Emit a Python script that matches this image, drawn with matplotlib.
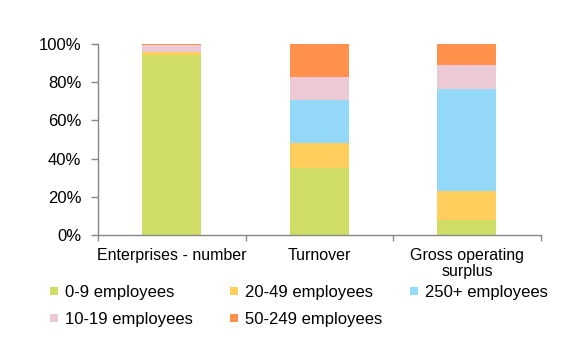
import numpy as np
import matplotlib.pyplot as plt
from matplotlib.lines import Line2D

plt.rcParams['font.family'] = ['Liberation Sans', 'DejaVu Sans']

categories = ["Enterprises - number", "Turnover", "Gross operating\nsurplus"]

# shares (%) by enterprise size class, bottom to top of each stack
size_classes = ["0-9 employees", "20-49 employees", "250+ employees",
                "10-19 employees", "50-249 employees"]
emp_0_9 = [94.2, 35.2, 8.0]
emp_20_49 = [1.6, 13.0, 15.0]
emp_250p = [0.1, 22.6, 53.4]
emp_10_19 = [3.7, 11.9, 12.6]
emp_50_249 = [0.4, 17.3, 11.0]

colors = ["#CFDD66", "#FFCE5C", "#95D9F8", "#EBCAD5", "#FF914D"]
series = [emp_0_9, emp_20_49, emp_250p, emp_10_19, emp_50_249]

fs = 12
fig = plt.figure(figsize=(5.71, 3.47), dpi=100)
ax = fig.add_axes([98 / 571, 112 / 347, 442.7 / 571, 191 / 347])

x = np.arange(len(categories))
bottom = np.zeros(len(categories))
for vals, col in zip(series, colors):
    ax.bar(x, vals, width=0.4, bottom=bottom, color=col, linewidth=0)
    bottom += np.array(vals)

axis_col = "#868686"
ax.set_xlim(-0.5, 2.5)
ax.set_ylim(0, 100)
ax.set_yticks(np.arange(0, 101, 20))
ax.set_yticklabels([f"{v}%" for v in range(0, 101, 20)])
ax.set_xticks(x)
ax.set_xticklabels(categories, linespacing=1.05)
ax.tick_params(axis='x', length=0, pad=9.5, labelsize=11.5)
ax.set_xticks([-0.5, 0.5, 1.5, 2.5], minor=True)
ax.tick_params(axis='x', which='minor', length=4, color=axis_col, width=1)
ax.tick_params(axis='y', length=5, color=axis_col, width=1, pad=7,
               labelsize=fs)
for side in ("top", "right"):
    ax.spines[side].set_visible(False)
for side in ("left", "bottom"):
    ax.spines[side].set_color(axis_col)
    ax.spines[side].set_linewidth(1)

# legend: one block per column, series read row by row
columns = [[0, 3], [1, 4], [2]]
col_x = [49, 229, 409]
for idx, x0 in zip(columns, col_x):
    handles = [Line2D([], [], marker='s', linestyle='none', markersize=5.3,
                      markerfacecolor=colors[i], markeredgewidth=0)
               for i in idx]
    fig.legend(handles, [size_classes[i] for i in idx], loc='upper left',
               bbox_to_anchor=(x0 / 571, 1 - 285 / 347), frameon=False,
               fontsize=fs, handlelength=0.6, handletextpad=0.35,
               labelspacing=0.73, borderaxespad=0, borderpad=0)

fig.savefig("out.png", dpi=100)
